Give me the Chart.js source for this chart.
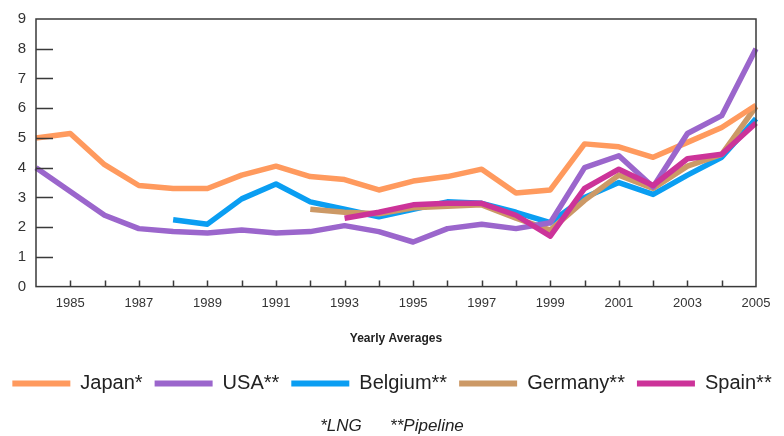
<!DOCTYPE html>
<html>
<head>
<meta charset="utf-8">
<script src="https://cdn.jsdelivr.net/npm/chart.js@4/dist/chart.umd.min.js"></script>
<style>
  html, body { margin: 0; padding: 0; background: #ffffff; }
  #wrap { width: 784px; height: 436px; }
</style>
</head>
<body>
<div id="wrap"><canvas id="c" width="784" height="436"></canvas></div>
<script>
// Gas prices, yearly averages
const years = ['1984','1985','1986','1987','1988','1989','1990','1991','1992','1993','1994',
               '1995','1996','1997','1998','1999','2000','2001','2002','2003','2004','2005'];

const japan   = [5.0, 5.15, 4.1, 3.4, 3.3, 3.3, 3.75, 4.05, 3.7, 3.6, 3.25,
                 3.55, 3.7, 3.95, 3.15, 3.25, 4.8, 4.7, 4.35, 4.85, 5.35, 6.1];
const usa     = [4.0, 3.2, 2.4, 1.95, 1.85, 1.8, 1.9, 1.8, 1.85, 2.05, 1.85,
                 1.5, 1.95, 2.1, 1.95, 2.15, 4.0, 4.4, 3.35, 5.15, 5.75, 8.0];
const belgium = [null, null, null, null, 2.25, 2.1, 2.95, 3.45, 2.85, 2.6, 2.35,
                 2.6, 2.85, 2.8, 2.5, 2.15, 3.0, 3.5, 3.1, 3.75, 4.35, 5.65];
const germany = [null, null, null, null, null, null, null, null, 2.6, 2.5, 2.45,
                 2.65, 2.7, 2.75, 2.3, 1.9, 2.9, 3.75, 3.3, 4.05, 4.45, 6.05];
const spain   = [null, null, null, null, null, null, null, null, null, 2.3, 2.5,
                 2.75, 2.8, 2.8, 2.4, 1.7, 3.3, 3.95, 3.4, 4.3, 4.45, 5.5];

const yTicks = [0, 1, 2, 3, 4, 5, 6, 7, 8, 9];

const FONT = "'Liberation Sans', Arial, sans-serif";

function series(label, data, color, order) {
  return {
    label, data, order,
    borderColor: color,
    backgroundColor: color,
    borderWidth: 5.5,
    pointRadius: 0,
    pointHoverRadius: 0,
    tension: 0,
    spanGaps: false,
    borderCapStyle: 'butt',
    borderJoinStyle: 'round'
  };
}

// Frame around the plot plus short tick marks pointing into the plot
const frameAndTicks = {
  id: 'frameAndTicks',
  afterDraw(chart) {
    const { ctx, chartArea: a, scales: { x, y } } = chart;
    ctx.save();
    ctx.strokeStyle = '#3a3a3a';
    ctx.lineWidth = 1.5;
    ctx.strokeRect(a.left, a.top, a.right - a.left, a.bottom - a.top);
    ctx.beginPath();
    for (let i = 1; i < years.length - 1; i++) {
      const px = Math.round(x.getPixelForValue(i)) + 0.5;
      ctx.moveTo(px, a.bottom);
      ctx.lineTo(px, a.bottom - 6);
    }
    yTicks.forEach(v => {
      if (v === 0 || v === yTicks[yTicks.length - 1]) return;
      const py = Math.round(y.getPixelForValue(v)) + 0.5;
      ctx.moveTo(a.left, py);
      ctx.lineTo(a.left + 17, py);
    });
    ctx.stroke();
    ctx.restore();
  }
};

new Chart(document.getElementById('c'), {
  type: 'line',
  data: {
    labels: years,
    datasets: [
      series('Japan*',     japan,   '#ff9a5e', 3),
      series('USA**',      usa,     '#9b66cc', 2),
      series('Belgium**',  belgium, '#0a9ef2', 5),
      series('Germany**',  germany, '#cc9966', 4),
      series('Spain**',    spain,   '#cc3399', 1)
    ]
  },
  options: {
    responsive: false,
    animation: false,
    events: [],
    layout: { padding: { left: 0, right: 0, top: 19, bottom: 0 } },
    scales: {
      x: {
        type: 'category',
        offset: false,
        grid: { display: false, drawTicks: false },
        border: { display: false },
        ticks: {
          autoSkip: false,
          maxRotation: 0,
          padding: 9,
          color: '#333333',
          font: { family: FONT, size: 13 },
          callback: (v, i) => (Number(years[i]) % 2 === 1 ? years[i] : '')
        },
        title: {
          display: true,
          text: 'Yearly Averages',
          color: '#222222',
          font: { family: FONT, size: 12, weight: 'bold' },
          padding: { top: 11, bottom: 16 }
        }
      },
      y: {
        min: 0,
        max: 9,
        grid: { display: false, drawTicks: false },
        border: { display: false },
        afterBuildTicks: s => { s.ticks = yTicks.map(v => ({ value: v })); },
        afterFit: s => { s.width = 36; },
        ticks: {
          padding: 10,
          color: '#333333',
          font: { family: FONT, size: 15 }
        }
      },
      yRight: {
        position: 'right',
        min: 0,
        max: 9,
        grid: { display: false, drawTicks: false },
        border: { display: false },
        ticks: { display: false },
        afterFit: s => { s.width = 28; }
      }
    },
    plugins: {
      legend: {
        display: true,
        position: 'bottom',
        labels: {
          boxWidth: 58,
          boxHeight: 6,
          padding: 12,
          color: '#222222',
          font: { family: FONT, size: 20 },
          generateLabels: chart => chart.data.datasets.map((d, i) => ({
            text: d.label,
            fillStyle: d.borderColor,
            strokeStyle: d.borderColor,
            lineWidth: 0,
            datasetIndex: i,
            fontColor: '#222222'
          }))
        }
      },
      title: {
        display: true,
        position: 'bottom',
        text: '*LNG      **Pipeline',
        color: '#222222',
        font: { family: FONT, size: 17, style: 'italic', weight: 'normal' },
        padding: { top: 12, bottom: 0 }
      },
      tooltip: { enabled: false }
    }
  },
  plugins: [frameAndTicks]
});
</script>
</body>
</html>
